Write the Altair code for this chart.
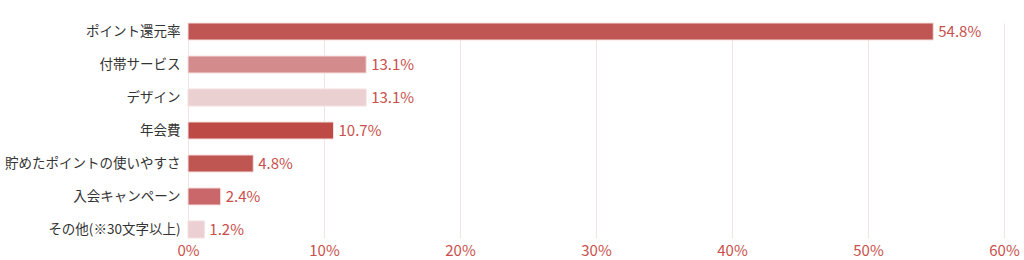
import altair as alt
import pandas as pd

categories = ["ポイント還元率", "付帯サービス", "デザイン", "年会費",
              "貯めたポイントの使いやすさ", "入会キャンペーン", "その他(※30文字以上)"]
values = [54.8, 13.1, 13.1, 10.7, 4.8, 2.4, 1.2]
colors = ["#c05653", "#d48b8b", "#ebd0d2", "#be4a45", "#c05652", "#c9676a", "#ebcfd2"]
x_ticks = [0, 10, 20, 30, 40, 50, 60]

df = pd.DataFrame({"cat": categories, "val": values})

FONT = "Noto Sans CJK JP"
RED = "#c9504c"

base = alt.Chart(df).encode(
    y=alt.Y("cat:N", sort=categories,
            scale=alt.Scale(paddingInner=16/33, paddingOuter=0),
            axis=alt.Axis(title=None, domain=False, ticks=False, labelPadding=8,
                          labelFont=FONT, labelFontSize=13.5, labelColor="#333333")),
)

bars = base.mark_bar(stroke="#f5dede", strokeWidth=1).encode(
    x=alt.X("val:Q", scale=alt.Scale(domain=[0, 60], nice=False),
            axis=alt.Axis(title=None, values=x_ticks, domain=False, ticks=False,
                          grid=True, gridColor="#f5e3e3", gridWidth=1,
                          labelExpr="datum.value + '%'", labelPadding=5,
                          labelFlush=False,
                          labelFont=FONT, labelFontSize=15, labelColor=RED)),
    color=alt.Color("cat:N", scale=alt.Scale(domain=categories, range=colors), legend=None),
)

labels = base.mark_text(align="left", baseline="middle", dx=5, font=FONT,
                        fontSize=15, color=RED).encode(
    x=alt.X("val:Q"),
    text=alt.Text("label:N"),
).transform_calculate(label="format(datum.val, '.1f') + '%'")

chart = (bars + labels).properties(
    width=816, height=215,
    padding={"left": 188, "top": 23, "right": 20, "bottom": 22},
    autosize="none",
    background="white",
).configure_view(stroke=None)

chart.save("out.html", embed_options={"renderer": "svg", "actions": False})
